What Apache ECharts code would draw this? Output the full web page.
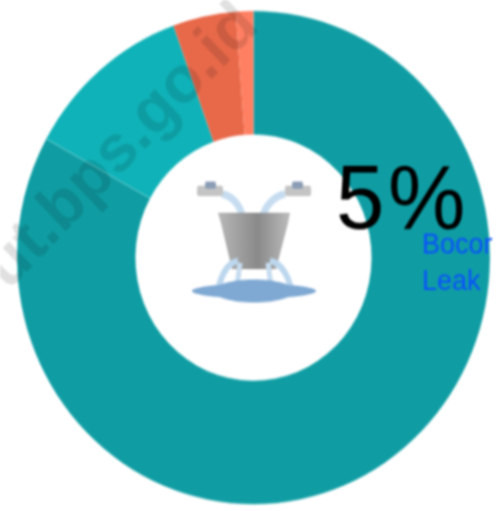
<!DOCTYPE html>
<html>
<head>
<meta charset="utf-8">
<style>
html,body{margin:0;padding:0;background:#fff;overflow:hidden;width:497px;height:511px}
#c{width:497px;height:490px;transform:scaleY(1.0429);transform-origin:0 0;filter:blur(0.8px)}
</style>
<script src="https://cdn.jsdelivr.net/npm/echarts@6/dist/echarts.min.js"></script>
</head>
<body>
<div id="c"></div>
<script>
const categories = ['Lainnya', 'Segmen 2', 'Segmen 3', 'Bocor'];
const values = [83, 11.5, 4.3, 1.2];
const colors = ['#0f9da3', '#0fb2b8', '#e8694a', '#ff7f62'];
const headline = ['5', '%'];
const labelLines = ['Bocor', 'Leak'];
const watermark = 'ut.bps.go.id';

const chart = echarts.init(document.getElementById('c'), null, {renderer: 'canvas'});
chart.setOption({
  animation: false,
  series: [{
    type: 'pie',
    center: [253.5, 247],
    radius: [118, 236.5],
    startAngle: 90,
    clockwise: true,
    silent: true,
    label: {show: false},
    labelLine: {show: false},
    data: categories.map((name, i) => ({
      name, value: values[i],
      itemStyle: {color: colors[i], borderColor: 'rgba(190,235,235,0.55)', borderWidth: i < 2 ? 0.5 : 0}
    }))
  }],
  graphic: [
    // bucket
    {type: 'polygon', z: 5, shape: {points: [[218,204],[290,204],[288,214],[276,258],[232,258],[221,214]]},
      style: {fill: new echarts.graphic.LinearGradient(0,0,1,0,[
        {offset:0,color:'#b8b8b8'},{offset:0.55,color:'#8a8a8a'},{offset:1,color:'#bcbcbc'}])}},
    // handles / tap ends
    {type: 'rect', z: 5, shape: {x: 197, y: 178, width: 26, height: 10, r: 2}, style: {fill: '#c4c4c4'}},
    {type: 'rect', z: 5, shape: {x: 285, y: 178, width: 26, height: 10, r: 2}, style: {fill: '#c4c4c4'}},
    {type: 'rect', z: 6, shape: {x: 205, y: 174, width: 11, height: 7, r: 2}, style: {fill: '#8b9db5'}},
    {type: 'rect', z: 6, shape: {x: 292, y: 174, width: 11, height: 7, r: 2}, style: {fill: '#8b9db5'}},
    // top water jets
    {type: 'bezierCurve', z: 4, shape: {x1:222,y1:186,x2:243,y2:214,cpx1:234,cpy1:188,cpx2:243,cpy2:200}, style: {stroke:'#c6dcf0',lineWidth:7,fill:'none'}},
    {type: 'bezierCurve', z: 4, shape: {x1:285,y1:186,x2:262,y2:214,cpx1:273,cpy1:188,cpx2:262,cpy2:200}, style: {stroke:'#c6dcf0',lineWidth:7,fill:'none'}},
    // lower water jets
    {type: 'bezierCurve', z: 6, shape: {x1:238,y1:250,x2:218,y2:282,cpx1:226,cpy1:252,cpx2:219,cpy2:268}, style: {stroke:'#bcd7ee',lineWidth:6,fill:'none'}},
    {type: 'bezierCurve', z: 6, shape: {x1:270,y1:250,x2:291,y2:282,cpx1:282,cpy1:252,cpx2:291,cpy2:268}, style: {stroke:'#bcd7ee',lineWidth:6,fill:'none'}},
    {type: 'line', z: 6, shape: {x1:240,y1:252,x2:236,y2:282}, style: {stroke:'#c6dcf0',lineWidth:5}},
    {type: 'line', z: 6, shape: {x1:268,y1:252,x2:272,y2:282}, style: {stroke:'#c6dcf0',lineWidth:5}},
    // puddle
    {type: 'ellipse', z: 7, shape: {cx: 254, cy: 279, rx: 62, ry: 7}, style: {fill: '#7fa9d3'}},
    {type: 'ellipse', z: 7, shape: {cx: 254, cy: 279, rx: 40, ry: 11}, style: {fill: '#7fa9d3'}},
    // text
    {type: 'text', z: 10, x: 336, y: 152, style: {text: headline[0], font: '87px "Liberation Sans"', fill: '#000'}},
    {type: 'text', z: 10, x: 388, y: 152, style: {text: headline[1], font: '87px "Liberation Sans"', fill: '#000'}},
    {type: 'text', z: 10, x: 422, y: 236, style: {text: labelLines[0], font: '27px "Liberation Sans"', fill: '#0a50ff', textVerticalAlign: 'middle'}},
    {type: 'text', z: 10, x: 422, y: 271, style: {text: labelLines[1], font: '27px "Liberation Sans"', fill: '#0a50ff', textVerticalAlign: 'middle'}},
    // watermark
    {type: 'text', z: 20, x: -4, y: 267, rotation: Math.PI / 4, originX: 0, originY: 0,
      style: {text: watermark, font: 'bold 63px "Liberation Sans"', fill: 'rgba(0,0,0,0.12)', textVerticalAlign: 'middle'}}
  ]
});
</script>
</body>
</html>
